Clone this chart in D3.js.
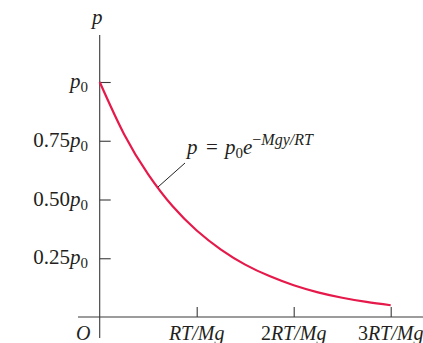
<!DOCTYPE html>
<html>
<head>
<meta charset="utf-8">
<title>Pressure vs height</title>
<script src="https://d3js.org/d3.v7.min.js"></script>
<style>
  body { margin: 0; background: white; }
  text { font-family: "Liberation Serif", "Times New Roman", serif; fill: #231f20; }
  .it { font-style: italic; }
</style>
</head>
<body>
<div id="plot"></div>
<script>
// data
var curveX = [0, 0.25, 0.5, 0.75, 1, 1.25, 1.5, 1.75, 2, 2.25, 2.5, 2.75, 3]
var curveP = [1, 0.779, 0.607, 0.472, 0.368, 0.287, 0.223, 0.174, 0.135, 0.105, 0.082, 0.064, 0.05]
var yTicks = [0.25, 0.5, 0.75, 1]
var yTickNums = ['0.25', '0.50', '0.75', '']
var xTicks = [1, 2, 3]
var xTickNums = ['', '2', '3']

var W = 423, H = 343
var svg = d3.select('#plot').append('svg')
  .attr('width', W).attr('height', H)

var x = d3.scaleLinear().domain([0, 3]).range([99.7, 390.7])
var y = d3.scaleLinear().domain([0, 1]).range([317, 82])

var ink = '#3a3a3a'

// axes lines (crossing at origin)
svg.append('line').attr('x1', 78).attr('x2', W).attr('y1', y(0)).attr('y2', y(0))
  .attr('stroke', ink).attr('stroke-width', 1.1)
svg.append('line').attr('x1', x(0)).attr('x2', x(0)).attr('y1', 35).attr('y2', 338)
  .attr('stroke', ink).attr('stroke-width', 1.1)

// tick marks through d3 axes
var yAxis = svg.append('g').attr('transform', 'translate(' + x(0) + ',0)')
  .call(d3.axisRight(y).tickValues(yTicks).tickSize(11).tickFormat(''))
var xAxis = svg.append('g').attr('transform', 'translate(0,' + y(0) + ')')
  .call(d3.axisTop(x).tickValues(xTicks).tickSize(10).tickFormat(''))
;[yAxis, xAxis].forEach(function(a) {
  a.select('.domain').remove()
  a.selectAll('.tick line').attr('stroke', ink).attr('stroke-width', 1.1)
})

// y tick labels
yTicks.forEach(function(v, i) {
  var t = svg.append('text').attr('x', 88).attr('y', y(v) + 6)
    .attr('text-anchor', 'end').style('font-size', '21px')
  t.append('tspan').text(yTickNums[i])
  t.append('tspan').attr('class', 'it').text('p')
  t.append('tspan').attr('dy', 4).style('font-size', '15px').text('0')
})

// x tick labels
xTicks.forEach(function(v, i) {
  var t = svg.append('text').attr('x', x(v)).attr('y', 340)
    .attr('text-anchor', 'middle').style('font-size', '20px')
  if (xTickNums[i]) t.append('tspan').text(xTickNums[i])
  t.append('tspan').attr('class', 'it').text('RT/Mg')
})

svg.append('text').attr('class', 'it').attr('x', 76).attr('y', 340)
  .style('font-size', '20px').text('O')
svg.append('text').attr('class', 'it').attr('x', 92).attr('y', 24)
  .style('font-size', '21px').text('p')

// curve
var line = d3.line()
  .x(function(d, i) { return x(curveX[i]) })
  .y(function(d) { return y(d) })
  .curve(d3.curveNatural)
svg.append('path').datum(curveP)
  .attr('d', line)
  .attr('fill', 'none')
  .attr('stroke', '#e5194a')
  .attr('stroke-width', 2.2)

// leader + formula
svg.append('line').attr('x1', 158).attr('y1', 187).attr('x2', 185).attr('y2', 163)
  .attr('stroke', '#222').attr('stroke-width', 1)
var f = svg.append('text').attr('y', 154).style('font-size', '21px')
f.append('tspan').attr('x', 187).attr('class', 'it').text('p')
f.append('tspan').attr('x', 206).text('=')
f.append('tspan').attr('x', 225).attr('class', 'it').text('p')
f.append('tspan').attr('dy', 4).style('font-size', '15px').text('0')
f.append('tspan').attr('dy', -4).attr('class', 'it').text('e')
f.append('tspan').attr('dy', -9).style('font-size', '16px').text('\u2212')
f.append('tspan').attr('class', 'it').style('font-size', '16px').text('Mgy/RT')
</script>
</body>
</html>
